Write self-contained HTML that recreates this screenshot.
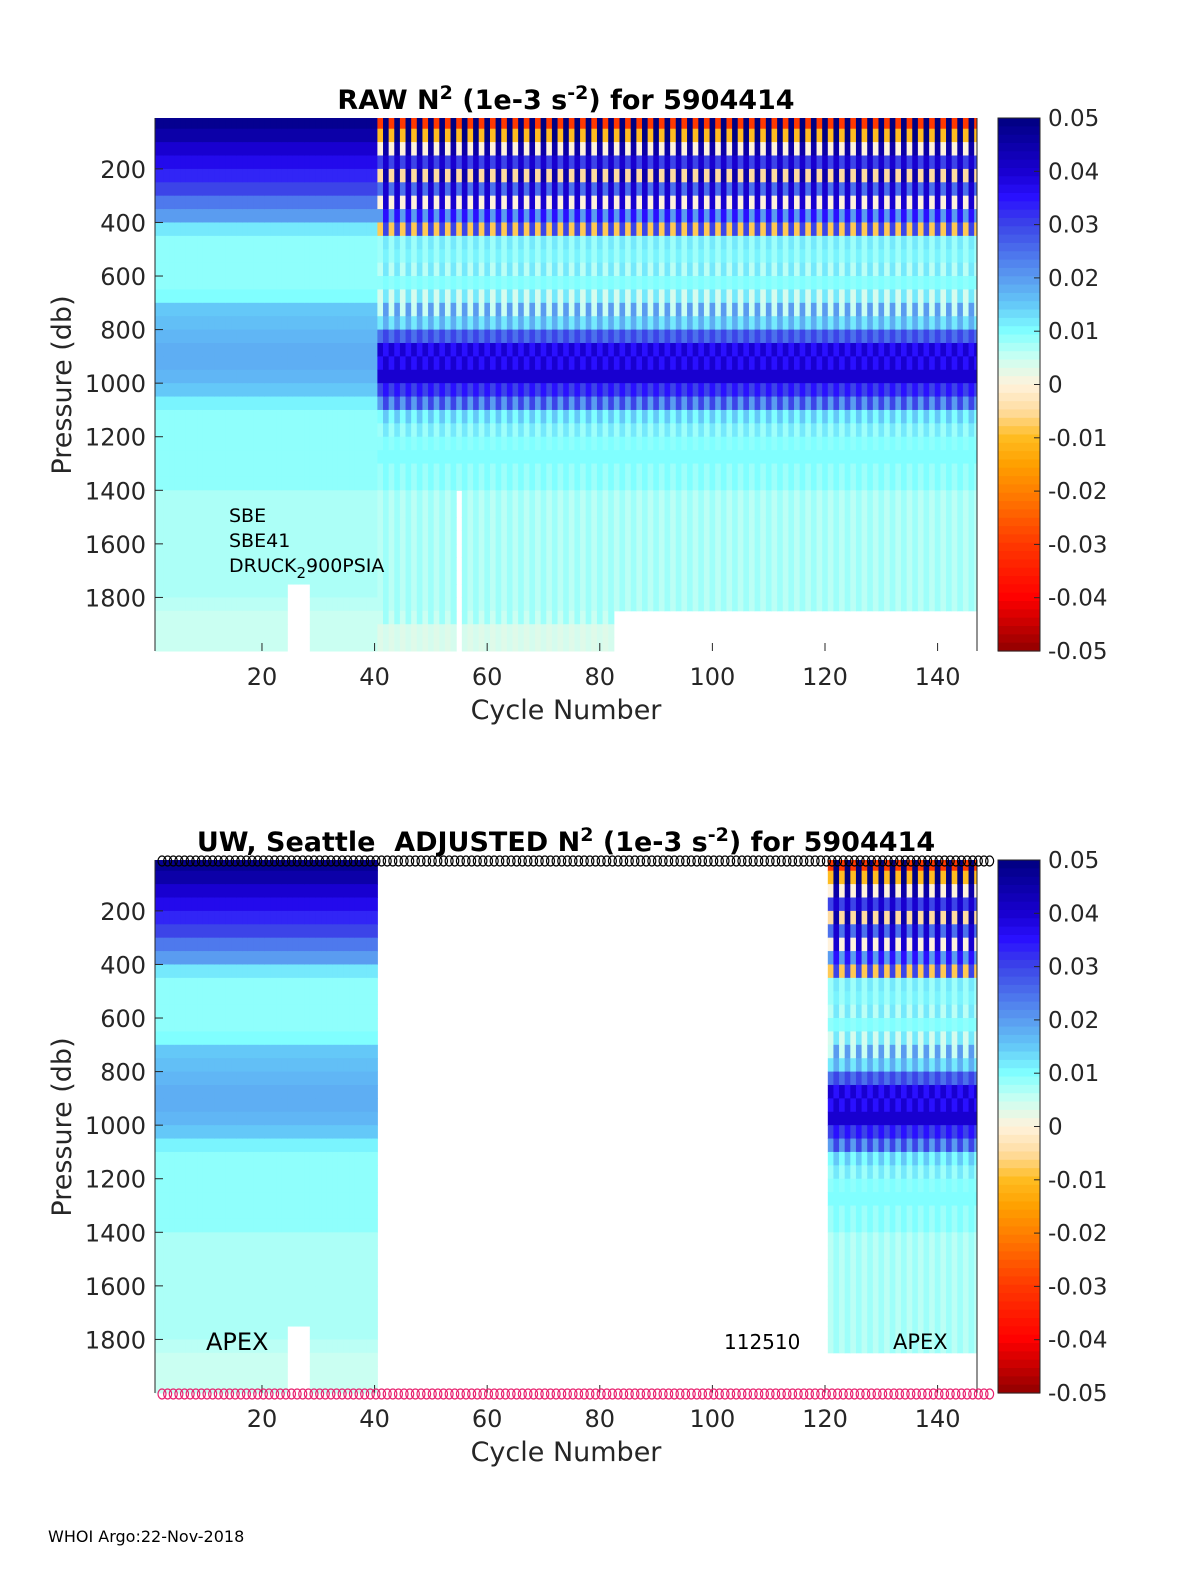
<!DOCTYPE html>
<html><head><meta charset="utf-8">
<style>
body{margin:0;background:#fff;}
svg{display:block;font-family:"DejaVu Sans","Liberation Sans",sans-serif;}
</style></head>
<body>
<svg id="fig" width="1200" height="1575" viewBox="0 0 1200 1575" xmlns="http://www.w3.org/2000/svg">
</svg>
<script>
// ---- data ----
const depthLevels = [25,75,125,175,225,275,325,375,425,475,525,575,625,675,725,775,825,875,925,975,1025,1075,1125,1175,1225,1275,1325,1375,1425,1475,1525,1575,1625,1675,1725,1775,1825,1875,1925,1975];
const profileEarly = [0.048,0.045,0.04,0.037,0.033,0.03,0.024,0.02,0.012,0.009,0.009,0.009,0.009,0.01,0.015,0.016,0.017,0.018,0.018,0.017,0.015,0.011,0.009,0.009,0.009,0.009,0.009,0.009,0.007,0.007,0.007,0.007,0.007,0.007,0.007,0.007,0.006,0.005,0.005,0.005];
const profileLateEven = [0.05,0.05,0.045,0.04,0.045,0.04,0.04,0.035,0.03,0.012,0.011,0.012,0.01,0.012,0.02,0.018,0.03,0.035,0.04,0.04,0.035,0.03,0.015,0.012,0.01,0.01,0.01,0.01,0.008,0.008,0.008,0.008,0.008,0.008,0.008,0.008,0.008,0.008,0.004,0.004];
const profileLateOdd = [-0.03,-0.01,0.0,0.03,-0.005,0.025,0.0,0.02,-0.008,0.008,0.008,0.006,0.009,0.004,0.005,0.012,0.025,0.04,0.035,0.04,0.03,0.02,0.01,0.008,0.009,0.01,0.008,0.008,0.006,0.006,0.006,0.006,0.006,0.006,0.006,0.006,0.006,0.005,0.003,0.003];
const earlyLastCycle = 40;
// [firstCycle, lastCycle, maxDepth]
const depthCoverage = [[1,24,2000],[25,28,1750],[29,54,2000],[55,55,1400],[56,82,2000],[83,147,1850]];
const adjustedRanges = [[1,40],[121,147]];
const xTicks = [20,40,60,80,100,120,140];
const yTicks = [200,400,600,800,1000,1200,1400,1600,1800];
const cbTicks = [0.05,0.04,0.03,0.02,0.01,0,-0.01,-0.02,-0.03,-0.04,-0.05];
const cbTickLabels = ["0.05","0.04","0.03","0.02","0.01","0","-0.01","-0.02","-0.03","-0.04","-0.05"];
const cmapVals = [-0.05,-0.04,-0.03,-0.02,-0.015,-0.01,-0.005,0,0.005,0.01,0.015,0.02,0.03,0.035,0.04,0.05];
const cmapCols = ["#900000","#ff0000","#ff3800","#ff8000","#ffa000","#ffbc20","#ffdca0","#fff2dc","#cafff2","#80ffff","#64c8f8","#5a9cf0","#3c44e8","#2a10ff","#1800d0","#000080"];
const nCycles = 147;

// ---- helpers ----
const NS="http://www.w3.org/2000/svg";
const svg=document.getElementById('fig');
function mk(tag,attrs,parent){const e=document.createElementNS(NS,tag);for(const k in attrs)e.setAttribute(k,attrs[k]);(parent||svg).appendChild(e);return e;}
function hex(c){return [parseInt(c.slice(1,3),16),parseInt(c.slice(3,5),16),parseInt(c.slice(5,7),16)];}
function cmap(v){
  if(v<=cmapVals[0])return cmapCols[0];
  for(let i=1;i<cmapVals.length;i++){if(v<=cmapVals[i]){const t=(v-cmapVals[i-1])/(cmapVals[i]-cmapVals[i-1]);const a=hex(cmapCols[i-1]),b=hex(cmapCols[i]);return 'rgb('+a.map((x,j)=>Math.round(x+(b[j]-x)*t)).join(',')+')';}}
  return cmapCols[cmapCols.length-1];
}
const X0=155,X1=977,C0=1,C1=147;
function xs(c){return X0+(c-C0)/(C1-C0)*(X1-X0);}
function ys(top,p){return top+(p-10)/(2000-10)*533;}
function maxDepth(c){for(const r of depthCoverage){if(c>=r[0]&&c<=r[1])return r[2];}return 2000;}
function val(c,i){if(c<=earlyLastCycle)return profileEarly[i];return (c%2===0?profileLateEven:profileLateOdd)[i];}

function panel(top,title,adjusted){
  const g=mk('g',{});
  
  
  const hm=mk('g',{},g);
  
  
  const half=(xs(2)-xs(1))/2;
  for(let c=1;c<=nCycles;c++){
    if(adjusted && !adjustedRanges.some(r=>c>=r[0]&&c<=r[1]))continue;
    const md=maxDepth(c);
    for(let i=0;i<depthLevels.length;i++){
      const p=depthLevels[i];
      if(p-25>=md)continue;
      const pb=Math.min(p+25,md);
      const xa=Math.max(X0,xs(c)-half),xb=Math.min(X1,xs(c)+half);
      const ya=Math.max(top,ys(top,p-25)),yb=ys(top,pb);
      const r=mk('rect',{x:xa,y:ya,width:xb-xa+0.5,height:yb-ya+0.5,fill:cmap(val(c,i))},hm);
      
      
    }
  }
  const ax=mk('path',{d:`M${X0},${top+533}V${top}M${X1},${top}V${top+533}`,stroke:'#262626','stroke-width':1,fill:'none'},g);
  
  
  for(const t of xTicks){
    const x=xs(t);
    mk('line',{x1:x,x2:x,y1:top+533,y2:top+525,stroke:'#262626'},g);
    const tl=mk('text',{x:x,y:top+567,'font-size':24,'text-anchor':'middle',fill:'#262626'},g);
    tl.textContent=t;
    
    
  }
  for(const t of yTicks){
    const y=ys(top,t);
    mk('line',{x1:X0,x2:X0+8,y1:y,y2:y,stroke:'#262626'},g);
    const tl=mk('text',{x:146,y:y+9,'font-size':24,'text-anchor':'end',fill:'#262626'},g);
    tl.textContent=t;
    
    
  }
  const xl=mk('text',{x:566,y:top+601,'font-size':27,'text-anchor':'middle',fill:'#262626'},g);
  xl.textContent='Cycle Number';
  
  
  const yl=mk('text',{x:0,y:0,'font-size':27,'text-anchor':'middle',fill:'#262626',transform:`translate(71,${top+267}) rotate(-90)`},g);
  yl.textContent='Pressure (db)';
  
  
  const tt=mk('text',{x:566,y:top-9,'font-size':27,'font-weight':'bold','text-anchor':'middle',fill:'#000'},g);
  tt.setAttribute('xml:space','preserve');
  tt.innerHTML=title;
  
  
  const cb=mk('g',{},g);
  
  
  const n=64;
  for(let k=0;k<n;k++){
    const v=0.05-(k+0.5)*0.1/n;
    mk('rect',{x:998,y:top+k*533/n,width:42,height:533/n+0.6,fill:cmap(v)},cb);
  }
  mk('rect',{x:998,y:top,width:42,height:533,fill:'none',stroke:'#262626'},cb);
  cbTicks.forEach((v,k)=>{
    const y=top+(0.05-v)/0.1*533;
    mk('line',{x1:1034,x2:1040,y1:y,y2:y,stroke:'#262626'},cb);
    const tl=mk('text',{x:1048,y:y+8,'font-size':23,fill:'#262626'},cb);
    tl.textContent=cbTickLabels[k];
    
    
  });
  return g;
}

panel(118,'RAW N<tspan dy="-10" font-size="19">2</tspan><tspan dy="10"> (1e-3 s</tspan><tspan dy="-10" font-size="19">-2</tspan><tspan dy="10">) for 5904414</tspan>',false);
panel(860,'UW, Seattle&#160; ADJUSTED N<tspan dy="-10" font-size="19">2</tspan><tspan dy="10"> (1e-3 s</tspan><tspan dy="-10" font-size="19">-2</tspan><tspan dy="10">) for 5904414</tspan>',true);

const mTop=mk('g',{fill:'none',stroke:'#000','stroke-width':1.2});


const mBot=mk('g',{fill:'none',stroke:'#e8206e','stroke-width':1.2});


for(let c=1;c<=148;c++){
  mk('ellipse',{cx:xs(c)+7,cy:861,rx:4,ry:5},mTop);
  mk('ellipse',{cx:xs(c)+7,cy:1394,rx:4,ry:5},mBot);
}

function txt(x,y,s,size,name){const t=mk('text',{x:x,y:y,'font-size':size,fill:'#000'});t.innerHTML=s;return t;}
txt(229,522,'SBE',19,'sensor-label');
txt(229,547,'SBE41',19,'sensor-model-label');
txt(229,572,'DRUCK<tspan dy="6" font-size="15">2</tspan><tspan dy="-6">900PSIA</tspan>',19,'pressure-sensor-label');
txt(206,1350,'APEX',24,'float-type-left');
txt(724,1349,'112510',20,'float-serial');
txt(893,1349,'APEX',21,'float-type-right');
txt(48,1542,'WHOI Argo:22-Nov-2018',16,'footer-credit');
</script>
</body></html>
